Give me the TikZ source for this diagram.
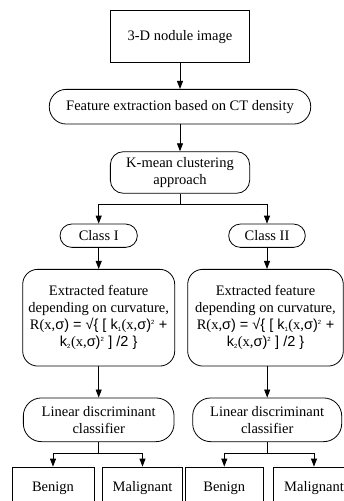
\documentclass[tikz,border=0pt]{standalone}
\usepackage{fontspec}
\setmainfont{Liberation Serif}
\newfontfamily\snf{Liberation Sans}
\usetikzlibrary{arrows.meta}
\newcommand{\ssub}[1]{\textsubscript{\fontsize{6}{6}\selectfont #1}}
\newcommand{\ssup}[1]{\textsuperscript{\fontsize{6}{6}\selectfont #1}}
\begin{document}
\begin{tikzpicture}[x=1pt,y=-1pt,
  every node/.style={font=\fontsize{14.5}{17}\selectfont},
  box/.style={draw,line width=0.8pt,align=center,inner sep=0pt},
  arr/.style={line width=0.8pt,-{Triangle[length=8pt,width=6pt]}},
  ln/.style={line width=0.8pt}]
\clip (0,0) rectangle (344,501);
\node[box,minimum width=138.6pt,minimum height=52pt] (top) at (180,36.7) {3-D nodule image};
\node[box,rounded corners=17pt,minimum width=261.4pt,minimum height=34.7pt] (fe) at (180,106.7) {Feature extraction based on CT density};
\node[box,rounded corners=13pt,minimum width=139.3pt,minimum height=41.6pt] (km) at (180,172.5) {K-mean clustering\\approach};
\node[box,rounded corners=11.6pt,minimum width=77.3pt,minimum height=23.3pt] (c1) at (98.7,235.7) {Class I};
\node[box,rounded corners=11.6pt,minimum width=76.6pt,minimum height=23.3pt] (c2) at (267,235.7) {Class II};
\node[box,rounded corners=15pt,minimum width=152pt,minimum height=96.7pt] (ef1) at (98.7,317.7) {Extracted feature\\depending on curvature,\\R(x,{\snf σ) = √\{ [ k\ssub{1}}(x,{\snf σ)\ssup{2} +}\\{\snf k\ssub{2}}(x,{\snf σ)\ssup{2} ] /2 \}}};
\node[box,rounded corners=15pt,minimum width=155.6pt,minimum height=96.7pt] (ef2) at (265.5,317.7) {Extracted feature\\depending on curvature,\\R(x,{\snf σ) = √\{ [ k\ssub{1}}(x,{\snf σ)\ssup{2} +}\\{\snf k\ssub{2}}(x,{\snf σ)\ssup{2} ] /2 \}}};
\node[box,rounded corners=18pt,minimum width=150.7pt,minimum height=43.7pt] (ldc1) at (98.7,419.8) {Linear discriminant\\classifier};
\node[box,rounded corners=18pt,minimum width=149pt,minimum height=43.7pt] (ldc2) at (267.2,419.8) {Linear discriminant\\classifier};
\node[box,minimum width=82pt,minimum height=42pt] (b1) at (53,488) {Benign};
\node[box,minimum width=80pt,minimum height=42pt] (m1) at (142.5,488) {Malignant};
\node[box,minimum width=78pt,minimum height=42pt] (b2) at (224.3,488) {Benign};
\node[box,minimum width=82pt,minimum height=42pt] (m2) at (314,488) {Malignant};
\draw[arr] (top) -- (fe);
\draw[arr] (fe) -- (km);
\draw[ln] (km.south) -- ++(0,11) coordinate (s1);
\draw[arr] (s1) -| (c1.north);
\draw[arr] (s1) -| (c2.north);
\draw[arr] (c1.south) -- (ef1.north);
\draw[arr] (c2.south) -- (c2.south |- ef2.north);
\draw[arr] (ef1.south) -- (ldc1.north);
\draw[arr] (ldc2.north |- ef2.south) -- (ldc2.north);
\draw[ln] (ldc1.south) -- ++(0,11) coordinate (s2);
\draw[arr] (s2) -| (b1.north);
\draw[arr] (s2) -| (m1.north);
\draw[ln] (ldc2.south) -- ++(0,11) coordinate (s3);
\draw[arr] (s3) -| (b2.north);
\draw[arr] (s3) -| (m2.north);
\end{tikzpicture}
\end{document}
